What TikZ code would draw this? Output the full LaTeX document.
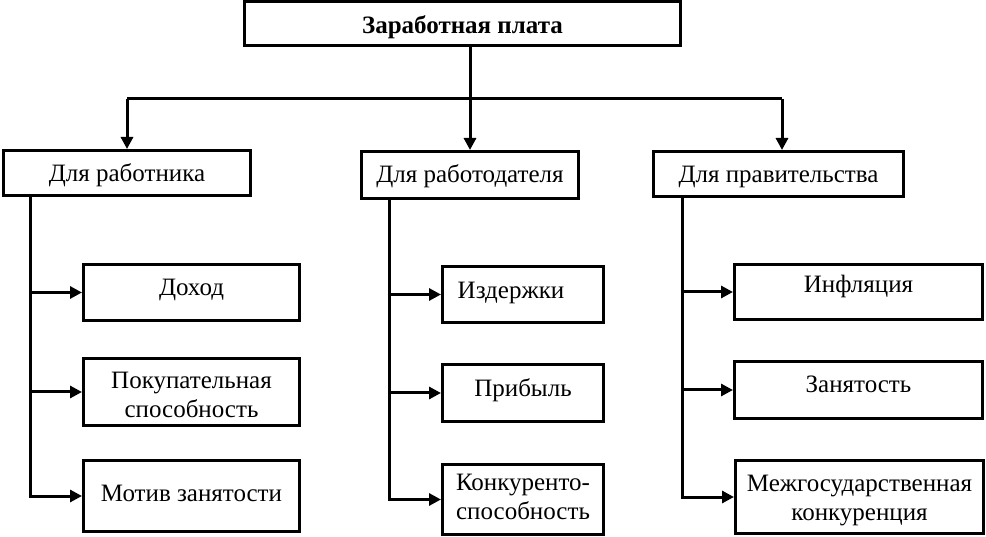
\documentclass[tikz,border=0pt]{standalone}
\usepackage{fontspec}
\setmainfont{Liberation Serif}
\usetikzlibrary{arrows.meta,calc}
\newcommand\bt[2]{\raisebox{#1}[0pt][0pt]{\begin{tabular}{@{}c@{}}#2\end{tabular}}}
\begin{document}
\begin{tikzpicture}[x=1pt,y=-1pt,
  box/.style={draw,line width=3pt,inner sep=0pt,font=\fontsize{25}{29}\selectfont},
  conn/.style={line width=3pt},
  arr/.style={line width=3pt,-{Triangle[length=12pt,width=12pt]}}]
\useasboundingbox (0,0) rectangle (986,537);
% top
\node[box,minimum width=436pt,minimum height=44pt,font=\fontsize{25}{29}\selectfont\bfseries] (top) at (462.5,23.5) {\bt{-10pt}{Заработная плата}};
% level 2
\node[box,minimum width=247pt,minimum height=45pt] (L2a) at (127,173) {\bt{-9pt}{Для работника}};
\node[box,minimum width=217pt,minimum height=47pt] (L2b) at (470,175) {\bt{-8pt}{Для работодателя}};
\node[box,minimum width=250pt,minimum height=45pt] (L2c) at (778.5,174) {\bt{-9pt}{Для правительства}};
% level 3 left
\node[box,minimum width=216pt,minimum height=56pt] (A1) at (191.5,292.5) {\bt{-3pt}{Доход}};
\node[box,minimum width=216pt,minimum height=67pt] (A2) at (191.5,392) {\bt{-11pt}{Покупательная\\способность}};
\node[box,minimum width=216pt,minimum height=71pt] (A3) at (191.5,496) {\bt{-6pt}{Мотив занятости}};
% level 3 middle
\node[box,minimum width=161pt,minimum height=56pt] (B1) at (523,294.5) {\hspace*{-24pt}\bt{-4pt}{Издержки}};
\node[box,minimum width=161pt,minimum height=57pt] (B2) at (523,393) {\bt{-4pt}{Прибыль}};
\node[box,minimum width=161pt,minimum height=70pt] (B3) at (523,499.5) {\bt{-6pt}{Конкуренто-\\способность}};
% level 3 right
\node[box,minimum width=248pt,minimum height=55pt] (C1) at (858.5,292) {\bt{-1pt}{Инфляция}};
\node[box,minimum width=248pt,minimum height=57pt] (C2) at (858.5,390) {\bt{-3pt}{Занятость}};
\node[box,minimum width=248pt,minimum height=73pt] (C3) at (859.5,497) {\bt{-9pt}{Межгосударственная\\конкуренция}};
% bus
\coordinate (bus) at (0,99);
\coordinate (cN) at ($(L2c.north)+(3.5,0)$);
\draw[arr] (top.south -| L2b.north) -- (L2b.north);
\draw[conn] (L2a.north |- bus) -- (cN |- bus);
\draw[arr] (L2a.north |- bus) -- (L2a.north);
\draw[arr] (cN |- bus) -- (cN);
% trunks
\coordinate (ta) at (30,0);
\coordinate (tb) at (389,0);
\coordinate (tc) at (682,0);
\draw[arr] (L2a.south -| ta) |- (A3.west);
\draw[arr] (A1.west -| ta) -- (A1.west);
\draw[arr] (A2.west -| ta) -- (A2.west);
\draw[arr] (L2b.south -| tb) |- (B3.west);
\draw[arr] (B1.west -| tb) -- (B1.west);
\draw[arr] (B2.west -| tb) -- (B2.west);
\draw[arr] (L2c.south -| tc) |- (C3.west);
\draw[arr] (C1.west -| tc) -- (C1.west);
\draw[arr] (C2.west -| tc) -- (C2.west);
\end{tikzpicture}
\end{document}
